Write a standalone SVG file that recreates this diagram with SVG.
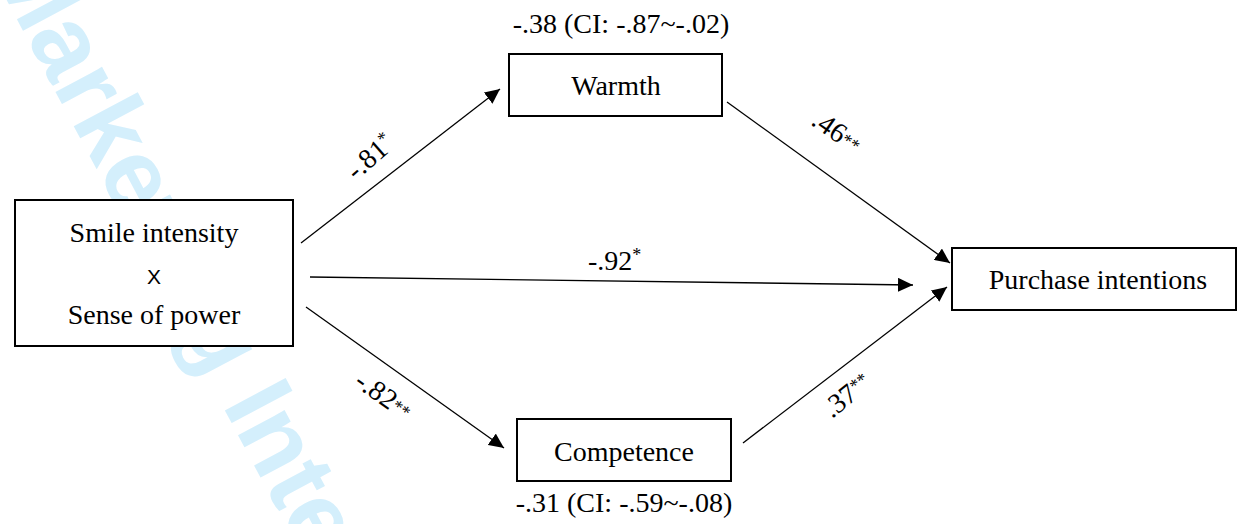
<svg xmlns="http://www.w3.org/2000/svg" width="1240" height="524" viewBox="0 0 1240 524">
<style>
.t{font-family:"Liberation Serif","Times New Roman",serif;font-size:28px;fill:#000}
.c{text-anchor:middle}
.s{font-size:18px}
.box{fill:#fff;stroke:#000;stroke-width:2}
.ln{stroke:#000;stroke-width:1.3;fill:none;marker-end:url(#ah)}
.wm{font-family:"Liberation Sans",Arial,sans-serif;font-size:100px;font-weight:bold;fill:#d4effc}
</style>
<defs>
<marker id="ah" markerWidth="16" markerHeight="14" refX="15" refY="7" orient="auto" markerUnits="userSpaceOnUse">
<path d="M0,0 L15,7 L0,14 z" fill="#000"/>
</marker>
</defs>
<rect width="1240" height="524" fill="#fff"/>
<text class="wm" transform="translate(-13,-37) rotate(62)">Marketing Intelligence</text>
<g id="connectors">
<line class="ln" x1="301" y1="243" x2="500" y2="89"/>
<line class="ln" x1="310" y1="277" x2="913" y2="285"/>
<line class="ln" x1="306" y1="307" x2="504" y2="448"/>
<line class="ln" x1="727" y1="102" x2="950" y2="263"/>
<line class="ln" x1="743" y1="443" x2="947" y2="287"/>
<text class="t" transform="translate(356,181) rotate(-41)">-.81<tspan class="s" dy="-9">*</tspan></text>
<text class="t" x="588" y="270">-.92<tspan class="s" dy="-9">*</tspan></text>
<text class="t" transform="translate(353,385) rotate(35)">-.82<tspan class="s" dy="-2">**</tspan></text>
<text class="t" transform="translate(810,124) rotate(35)">.46<tspan class="s" dy="-2">**</tspan></text>
<text class="t" transform="translate(832,419) rotate(-39)">.37<tspan class="s" dy="-6">**</tspan></text>
</g>
<g id="smile">
<rect class="box" x="15" y="200" width="278" height="146"/>
<text class="t c" x="154" y="242">Smile intensity</text>
<text class="c" x="154" y="284" font-family="'Liberation Sans',Arial,sans-serif" font-size="21">X</text>
<text class="t c" x="154" y="324">Sense of power</text>
</g>
<g id="warmth">
<rect class="box" x="509" y="54" width="213" height="62"/>
<text class="t c" x="616" y="95">Warmth</text>
<text class="t c" x="621" y="33">-.38 (CI: -.87~-.02)</text>
</g>
<g id="competence">
<rect class="box" x="517" y="419" width="214" height="62"/>
<text class="t c" x="624" y="461">Competence</text>
<text class="t c" x="624" y="512">-.31 (CI: -.59~-.08)</text>
</g>
<g id="purchase">
<rect class="box" x="952" y="248" width="284" height="62"/>
<text class="t c" x="1098" y="289">Purchase intentions</text>
</g>
</svg>
